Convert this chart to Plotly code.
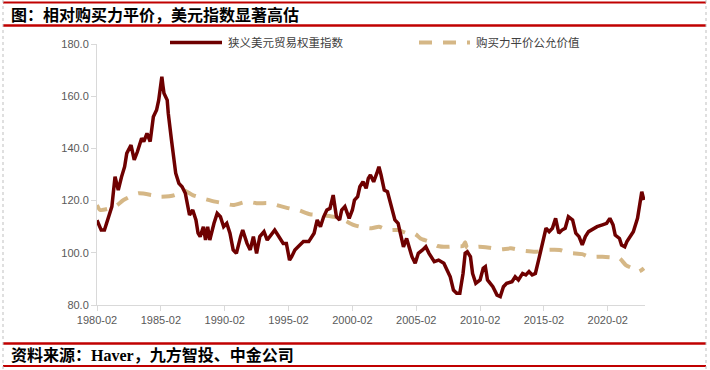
import plotly.graph_objects as go

W, H = 710, 370
L, R, T, B = 97, 645, 44, 305  # plot area in pixels

title_text = "图：相对购买力平价，美元指数显著高估"
source_text = "资料来源：Haver，九方智投、中金公司"
name_usd = "狭义美元贸易权重指数"
name_ppp = "购买力平价公允价值"

tick_labels = ["1980-02", "1985-02", "1990-02", "1995-02", "2000-02",
               "2005-02", "2010-02", "2015-02", "2020-02"]
y_ticks = [80, 100, 120, 140, 160, 180]

# 狭义美元贸易权重指数
usd_dates = (
    ["1980-02", "1980-06", "1980-09", "1980-12", "1981-04", "1981-07", "1981-10",
     "1982-01", "1982-04", "1982-06", "1982-09", "1982-10", "1983-01", "1983-04",
     "1983-08", "1983-10", "1984-01", "1984-04", "1984-07", "1984-10", "1984-12"]
    + ["1985-02", "1985-03", "1985-04", "1985-05", "1985-08", "1985-09", "1985-12",
       "1986-02", "1986-04", "1986-07", "1986-10", "1987-01", "1987-03", "1987-05",
       "1987-08", "1987-11", "1988-01", "1988-03", "1988-06", "1988-08", "1988-10",
       "1988-12", "1989-04", "1989-07", "1989-10"]
    + ["1990-01", "1990-04", "1990-07", "1990-10", "1991-01", "1991-05", "1991-07",
       "1991-11", "1992-02", "1992-05", "1992-08", "1992-11", "1993-03", "1993-06",
       "1993-10", "1994-01", "1994-04", "1994-09", "1994-12"]
    + ["1995-03", "1995-05", "1995-08", "1995-11", "1996-04", "1996-09", "1997-02",
       "1997-05", "1997-08", "1997-11", "1998-02", "1998-05", "1998-08", "1998-11",
       "1999-02", "1999-04", "1999-07", "1999-11"]
    + ["2000-02", "2000-04", "2000-07", "2000-09", "2000-12", "2001-03", "2001-05",
       "2001-07", "2001-10", "2002-01", "2002-03", "2002-05", "2002-08", "2002-11",
       "2003-01", "2003-03", "2003-06", "2003-09", "2003-11", "2004-02", "2004-05",
       "2004-07", "2004-10"]
    + ["2005-01", "2005-04", "2005-08", "2005-11", "2006-02", "2006-07", "2006-11",
       "2007-04", "2007-07", "2007-10", "2008-01", "2008-04", "2008-07", "2008-10",
       "2008-12", "2009-02", "2009-05", "2009-07", "2009-10"]
    + ["2010-02", "2010-05", "2010-07", "2010-09", "2010-12", "2011-02", "2011-06",
       "2011-09", "2011-12", "2012-03", "2012-08", "2012-11", "2013-02", "2013-06",
       "2013-09", "2013-12", "2014-03", "2014-06", "2014-09"]
    + ["2015-01", "2015-04", "2015-07", "2015-10", "2016-01", "2016-04", "2016-07",
       "2016-10", "2017-01", "2017-05", "2017-08", "2017-11", "2018-02", "2018-05",
       "2018-08", "2019-01", "2019-04", "2019-09"]
    + ["2020-01", "2020-04", "2020-07", "2020-09", "2021-01", "2021-03", "2021-06",
       "2021-08", "2021-11", "2022-02", "2022-06", "2022-08", "2022-10", "2022-12"]
)
usd_values = (
    [112.5, 108.7, 108.7, 112.6, 117.7, 129.2, 124.0, 129.0, 133.0, 138.1, 140.7,
     141.3, 135.6, 138.7, 143.9, 142.6, 145.8, 142.6, 152.1, 154.7, 158.5]
    + [165.0, 167.5, 164.0, 161.1, 158.5, 153.4, 143.2, 135.6, 130.5, 126.6, 125.3,
       122.8, 117.7, 114.5, 116.4, 112.6, 107.5, 106.2, 110.0, 104.9, 110.0, 104.9,
       111.3, 115.1, 113.8]
    + [110.0, 111.3, 107.5, 101.1, 99.8, 106.2, 108.7, 103.6, 101.1, 106.2, 99.8,
       106.2, 108.1, 104.9, 106.8, 108.7, 106.8, 103.6, 103.6]
    + [97.2, 98.5, 101.1, 102.3, 104.3, 104.3, 107.5, 112.6, 110.0, 113.8, 116.4,
       117.0, 122.1, 113.8, 112.6, 116.4, 117.7, 113.2]
    + [116.4, 120.2, 121.5, 125.3, 127.2, 124.7, 128.5, 129.8, 127.2, 130.5, 133.0,
       129.8, 124.0, 123.4, 120.2, 116.4, 112.6, 111.3, 107.5, 102.3, 105.5, 102.3, 98.5]
    + [96.0, 99.8, 101.1, 102.3, 99.8, 96.6, 97.2, 96.0, 93.4, 90.8, 85.7, 84.5,
       84.5, 92.1, 99.8, 100.4, 98.5, 92.1, 88.3]
    + [89.6, 94.1, 94.7, 89.6, 88.3, 87.0, 83.8, 83.2, 87.0, 88.3, 88.9, 90.8,
       89.6, 92.1, 91.5, 92.8, 91.5, 92.1, 97.2]
    + [103.6, 109.4, 108.1, 109.4, 113.2, 107.5, 108.7, 109.4, 113.8, 112.6, 107.5,
       106.2, 103.0, 106.2, 108.1, 109.4, 110.0, 110.7]
    + [111.3, 113.2, 110.7, 106.8, 105.5, 103.0, 102.3, 104.3, 106.2, 108.1, 113.2,
       118.3, 123.4, 120.2]
)

# 购买力平价公允价值
ppp_dates = ["1980-02", "1980-05", "1981-07", "1982-03", "1983-05", "1984-06",
             "1985-02", "1986-03", "1986-11", "1987-08", "1988-05", "1989-05",
             "1990-01", "1990-10", "1991-11", "1992-08", "1993-09", "1994-03",
             "1995-03", "1995-11", "1996-10", "1997-08", "1998-08", "1999-03",
             "2000-03", "2000-09", "2001-08", "2002-03", "2002-11", "2003-09",
             "2004-05", "2005-01", "2005-06", "2006-02", "2006-10", "2007-07",
             "2008-05", "2008-10", "2008-12", "2009-02", "2010-01", "2010-11",
             "2011-09", "2012-07", "2013-06", "2014-07", "2015-04", "2016-05",
             "2017-01", "2018-02", "2018-08", "2019-09", "2020-05", "2021-01",
             "2021-07", "2022-01", "2022-07", "2022-12"]
ppp_values = [118.3, 116.4, 117.7, 120.2, 122.8, 122.1, 121.5, 122.1, 124.0, 122.1,
              120.9, 119.6, 119.0, 118.3, 119.6, 119.0, 119.0, 118.3, 117.0, 116.4,
              114.8, 114.5, 113.8, 113.2, 110.7, 110.0, 109.4, 110.0, 108.7, 108.7,
              107.5, 107.2, 105.5, 104.3, 102.6, 102.3, 102.6, 102.6, 104.0, 101.8,
              102.3, 101.9, 101.3, 101.7, 100.8, 100.4, 101.1, 101.1, 100.0, 99.5,
              98.5, 98.5, 98.3, 97.9, 95.3, 94.1, 92.8, 94.1]

assert len(usd_dates) == len(usd_values)
assert len(ppp_dates) == len(ppp_values)

RED = "#6E0000"
TAN = "#D5B786"
BORDER_RED = "#C00000"
AXIS_GRAY = "#D9D9D9"


def px(xp, yp):
    """pixel -> paper coordinates"""
    return (xp - L) / (R - L), (B - yp) / (B - T)


fig = go.Figure()
fig.add_trace(go.Scatter(x=ppp_dates, y=ppp_values, mode="lines", name=name_ppp,
                         line=dict(color=TAN, width=4, dash="13px,11px",
                                   shape="spline", smoothing=0.6),
                         showlegend=False, hoverinfo="skip"))
fig.add_trace(go.Scatter(x=usd_dates, y=usd_values, mode="lines", name=name_usd,
                         line=dict(color=RED, width=3.5),
                         showlegend=False, hoverinfo="skip"))

shapes = []
annotations = []


def hline(yp, x0, x1, color, width, dash="solid"):
    a = px(x0, yp); b = px(x1, yp)
    shapes.append(dict(type="line", xref="paper", yref="paper", x0=a[0], y0=a[1],
                       x1=b[0], y1=b[1], line=dict(color=color, width=width, dash=dash),
                       layer="above"))


def vline(xp, y0, y1, color, width, dash="solid"):
    a = px(xp, y0); b = px(xp, y1)
    shapes.append(dict(type="line", xref="paper", yref="paper", x0=a[0], y0=a[1],
                       x1=b[0], y1=b[1], line=dict(color=color, width=width, dash=dash),
                       layer="above"))


# frame lines
hline(2.5, 3, 706, BORDER_RED, 2)
hline(25.5, 3, 706, BORDER_RED, 2.5)
hline(343.5, 3, 706, BORDER_RED, 2.5)
hline(366, 3, 706, BORDER_RED, 2)
vline(3, 0, 370, "#BFBFBF", 1, "dot")
vline(706, 0, 370, "#BFBFBF", 1, "dot")

# legend (manual)
hline(42.5, 170, 222, RED, 3.5)
hline(42.5, 419, 470, TAN, 4, "13px,11px")
lx, ly = px(226, 42.5)
annotations.append(dict(text=name_usd, x=lx, y=ly, xref="paper", yref="paper",
                        xanchor="left", yanchor="middle", showarrow=False,
                        font=dict(size=11.5, color="#404040", family="Noto Sans CJK SC")))
lx, ly = px(474, 42.5)
annotations.append(dict(text=name_ppp, x=lx, y=ly, xref="paper", yref="paper",
                        xanchor="left", yanchor="middle", showarrow=False,
                        font=dict(size=11.5, color="#404040", family="Noto Sans CJK SC")))

# title and source
tx, ty = px(9, 14)
annotations.append(dict(text="<b>" + title_text + "</b>", x=tx, y=ty, xref="paper",
                        yref="paper", xanchor="left", yanchor="middle", showarrow=False,
                        font=dict(size=16, color="#000000", family="Noto Sans CJK SC")))
sx, sy = px(9, 354.5)
annotations.append(dict(text="<b>" + source_text + "</b>", x=sx, y=sy, xref="paper",
                        yref="paper", xanchor="left", yanchor="middle", showarrow=False,
                        font=dict(size=16, color="#000000",
                                  family="Liberation Serif, Noto Sans CJK SC")))

fig.update_layout(
    width=W, height=H,
    margin=dict(l=L, r=W - R, t=T, b=H - B, pad=0),
    paper_bgcolor="white", plot_bgcolor="rgba(0,0,0,0)",
    shapes=shapes, annotations=annotations,
    showlegend=False,
    font=dict(family="Liberation Sans, Arial", size=11, color="#595959"),
)
fig.update_xaxes(type="date", range=["1980-02-01", "2023-01-01"],
                 tickvals=tick_labels, ticktext=tick_labels,
                 showgrid=False, zeroline=False, showline=True, linecolor=AXIS_GRAY,
                 linewidth=1, ticks="outside", ticklen=5, tickcolor=AXIS_GRAY,
                 tickfont=dict(size=11, color="#595959"))
fig.update_yaxes(range=[80, 180], tickvals=y_ticks, tickformat=".1f",
                 showgrid=False, zeroline=False, showline=True, linecolor=AXIS_GRAY,
                 linewidth=1, ticks="outside", ticklen=5, tickcolor=AXIS_GRAY,
                 tickfont=dict(size=11, color="#595959"))

fig.write_html("out.html",
               config={"displayModeBar": False, "staticPlot": True},
               post_script="document.body.style.margin='0px';"
                           "document.body.style.padding='0px';"
                           "document.body.style.overflow='hidden';")
